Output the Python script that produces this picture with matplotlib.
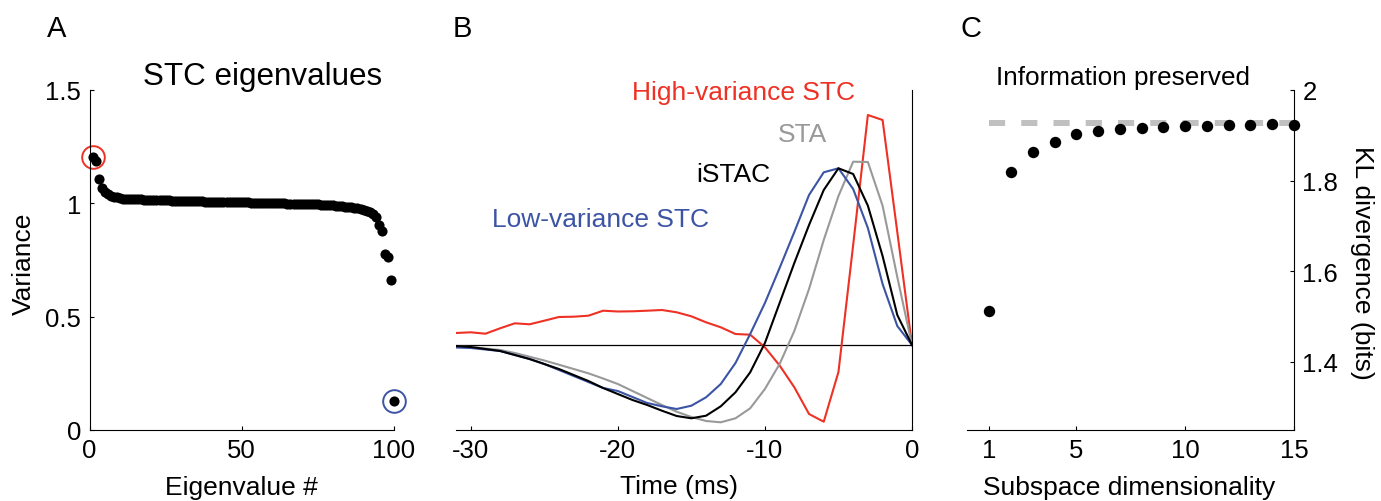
import matplotlib
matplotlib.use("Agg")
import matplotlib.pyplot as plt
import numpy as np

plt.rcParams['font.family'] = ['Liberation Sans', 'DejaVu Sans']

# ---------------- data ----------------
eig_index = list(range(1, 101))
eigenvalues = [1.203, 1.185, 1.106, 1.066, 1.050, 1.040, 1.034, 1.029, 1.026, 1.023,
               1.021, 1.020, 1.019, 1.018, 1.018, 1.017, 1.017, 1.016, 1.016, 1.015,
               1.015, 1.014, 1.014, 1.014, 1.013, 1.013, 1.012, 1.012, 1.012, 1.011,
               1.011, 1.010, 1.010, 1.010, 1.009, 1.009, 1.009, 1.008, 1.008, 1.008,
               1.007, 1.007, 1.007, 1.006, 1.006, 1.006, 1.005, 1.005, 1.005, 1.004,
               1.004, 1.004, 1.003, 1.003, 1.003, 1.002, 1.002, 1.002, 1.001, 1.001,
               1.001, 1.000, 1.000, 1.000, 0.999, 0.999, 0.999, 0.998, 0.998, 0.997,
               0.997, 0.996, 0.996, 0.995, 0.995, 0.994, 0.993, 0.993, 0.992, 0.991,
               0.990, 0.989, 0.988, 0.986, 0.985, 0.983, 0.981, 0.978, 0.975, 0.971,
               0.966, 0.960, 0.952, 0.938, 0.904, 0.879, 0.776, 0.762, 0.662, 0.127]

time_ms = list(range(-31, 1))
high_var_stc = [0.120, 0.127, 0.113, 0.167, 0.217, 0.207, 0.243, 0.280, 0.283, 0.293,
                0.343, 0.335, 0.337, 0.343, 0.350, 0.327, 0.287, 0.227, 0.177, 0.110,
                0.103, -0.023, -0.205, -0.423, -0.690, -0.767, -0.270, 1.000, 2.300, 2.250,
                1.130, 0.0]
sta = [-0.013, -0.020, -0.035, -0.050, -0.080, -0.117, -0.155, -0.197, -0.240, -0.283,
       -0.335, -0.390, -0.460, -0.530, -0.600, -0.667, -0.720, -0.760, -0.773, -0.733,
       -0.633, -0.440, -0.190, 0.140, 0.560, 1.050, 1.490, 1.833, 1.830, 1.393,
       0.680, 0.0]
istac = [-0.010, -0.020, -0.040, -0.060, -0.100, -0.140, -0.190, -0.240, -0.300, -0.360,
         -0.430, -0.490, -0.550, -0.600, -0.657, -0.710, -0.733, -0.707, -0.613, -0.473,
         -0.273, 0.020, 0.420, 0.820, 1.200, 1.550, 1.767, 1.710, 1.393, 0.890,
         0.300, 0.0]
low_var_stc = [-0.025, -0.030, -0.045, -0.060, -0.100, -0.140, -0.190, -0.250, -0.310, -0.370,
               -0.430, -0.460, -0.520, -0.580, -0.613, -0.640, -0.607, -0.523, -0.390, -0.180,
               0.110, 0.420, 0.770, 1.130, 1.500, 1.727, 1.767, 1.560, 1.170, 0.610,
               0.190, 0.0]

subspace_dim = list(range(1, 16))
kl_divergence = [1.513, 1.820, 1.863, 1.885, 1.902, 1.909, 1.913, 1.916, 1.919, 1.921,
                 1.921, 1.922, 1.923, 1.924, 1.923]
kl_total = 1.927

RED = '#EE3124'
BLUE = '#3B54A4'
GRAY = '#999999'
DASHGRAY = '#C0C0C0'

W, H = 1381, 502
fig = plt.figure(figsize=(W / 100, H / 100), dpi=100)


def axrect(x0, x1, ytop, ybot):
    return [x0 / W, 1 - ybot / H, (x1 - x0) / W, (ybot - ytop) / H]


def ftext(x, y, s, **kw):
    fig.text(x / W, 1 - y / H, s, **kw)


TICKFS = 18.5
tickkw = dict(direction='in', length=3, width=0.8, labelsize=TICKFS, pad=6.0)

# ---------------- Panel A ----------------
axA = fig.add_axes(axrect(89.5, 394, 91, 431))
axA.plot(eig_index, eigenvalues, 'o', color='k', ms=7.3, mec='none', clip_on=False)
axA.plot(eig_index[0], eigenvalues[0], 'o', mfc='none', mec=RED, ms=16.3, mew=1.4, clip_on=False)
axA.plot(eig_index[-1], eigenvalues[-1], 'o', mfc='none', mec=BLUE, ms=16.3, mew=1.4, clip_on=False)
axA.set_xlim(0, 100)
axA.set_ylim(0, 1.5)
axA.set_xticks([0, 50, 100])
axA.set_yticks([0, 0.5, 1, 1.5])
axA.set_yticklabels(['0', '0.5', '1', '1.5'])
axA.spines['top'].set_visible(False)
axA.spines['right'].set_visible(False)
for s in axA.spines.values():
    s.set_linewidth(0.8)
axA.tick_params(**tickkw)

# ---------------- Panel B ----------------
axB = fig.add_axes(axrect(456, 912, 91, 431))
axB.axhline(0, color='k', lw=0.9, zorder=1)
axB.plot(time_ms, high_var_stc, color=RED, lw=1.5, zorder=2)
axB.plot(time_ms, sta, color=GRAY, lw=1.5, zorder=3)
axB.plot(time_ms, low_var_stc, color=BLUE, lw=1.5, zorder=4)
axB.plot(time_ms, istac, color='k', lw=1.5, zorder=5)
axB.set_xlim(-31, 0)
axB.set_ylim(-0.85, 2.55)
axB.set_xticks([-30, -20, -10, 0])
axB.set_xticklabels(['-30', '-20', '-10', '0'])
axB.set_yticks([])
axB.spines['top'].set_visible(False)
axB.spines['left'].set_visible(False)
for s in axB.spines.values():
    s.set_linewidth(0.8)
axB.tick_params(**tickkw)

# ---------------- Panel C ----------------
axC = fig.add_axes(axrect(967.5, 1294, 91, 431))
axC.plot([subspace_dim[0], subspace_dim[-1]], [kl_total, kl_total], color=DASHGRAY,
         lw=4.3, linestyle=(0, (2.7, 2.7)), solid_capstyle='butt', zorder=1)
axC.plot(subspace_dim, kl_divergence, 'o', color='k', ms=8.2, mec='none', clip_on=False, zorder=2)
axC.set_xlim(0, 15)
axC.set_ylim(1.25, 2.0)
axC.set_xticks([1, 5, 10, 15])
axC.set_yticks([1.4, 1.6, 1.8, 2.0])
axC.set_yticklabels(['1.4', '1.6', '1.8', '2'])
axC.yaxis.tick_right()
axC.spines['top'].set_visible(False)
axC.spines['left'].set_visible(False)
for s in axC.spines.values():
    s.set_linewidth(0.8)
axC.tick_params(**tickkw)

# ---------------- texts ----------------
LBLFS = 19
ftext(47, 37, 'A', fontsize=21, va='baseline', ha='left')
ftext(453, 37, 'B', fontsize=21, va='baseline', ha='left')
ftext(961, 37, 'C', fontsize=21, va='baseline', ha='left')

ftext(263, 85, 'STC eigenvalues', fontsize=22.6, va='baseline', ha='center')
ftext(1123.5, 85, 'Information preserved', fontsize=18.8, va='baseline', ha='center')

ftext(631.7, 100, 'High-variance STC', fontsize=19, color=RED, va='baseline', ha='left')
ftext(778, 141.7, 'STA', fontsize=19, color=GRAY, va='baseline', ha='left')
ftext(696, 181.7, 'iSTAC', fontsize=19, color='k', va='baseline', ha='left')
ftext(491.7, 226.7, 'Low-variance STC', fontsize=19, color=BLUE, va='baseline', ha='left')

ftext(241, 495, 'Eigenvalue #', fontsize=LBLFS, va='baseline', ha='center')
ftext(679, 494, 'Time (ms)', fontsize=LBLFS, va='baseline', ha='center')
ftext(1129, 495, 'Subspace dimensionality', fontsize=LBLFS, va='baseline', ha='center')
ftext(24, 264, 'Variance', fontsize=LBLFS, rotation=90, va='center', ha='center')
ftext(1362, 263, 'KL divergence (bits)', fontsize=LBLFS, rotation=-90, va='center', ha='center')

fig.savefig('out.png', dpi=100)
